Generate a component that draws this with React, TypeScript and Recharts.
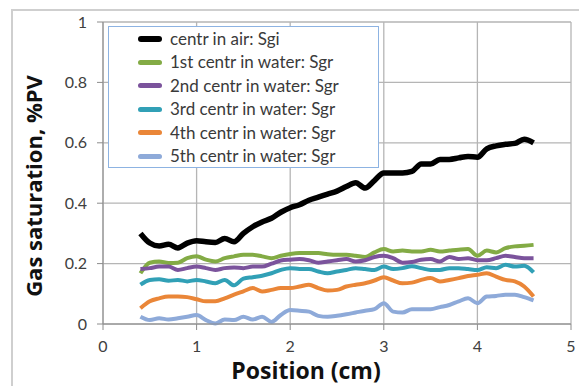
import React from 'react';
import {
  LineChart,
  Line,
  XAxis,
  YAxis,
  CartesianGrid,
  Legend,
} from 'recharts';

// position along the core, cm
const positions = [
  0.4, 0.5, 0.6, 0.7, 0.8, 0.9, 1.0, 1.1, 1.2, 1.3, 1.4, 1.5, 1.6, 1.7, 1.8,
  1.9, 2.0, 2.1, 2.2, 2.3, 2.4, 2.5, 2.6, 2.7, 2.8, 2.9, 3.0, 3.1, 3.2, 3.3,
  3.4, 3.5, 3.6, 3.7, 3.8, 3.9, 4.0, 4.1, 4.2, 4.3, 4.4, 4.5, 4.6,
];

const sgiAir = [
  0.3, 0.268, 0.258, 0.264, 0.252, 0.268, 0.276, 0.272, 0.27, 0.283, 0.272,
  0.3, 0.322, 0.338, 0.35, 0.37, 0.385, 0.395, 0.41, 0.42, 0.43, 0.44, 0.455,
  0.468, 0.45, 0.475, 0.5, 0.5, 0.5, 0.505, 0.53, 0.53, 0.545, 0.545, 0.55,
  0.555, 0.552, 0.58, 0.59, 0.595, 0.598, 0.612, 0.6,
];

const sgrWater1 = [
  0.168, 0.203, 0.207, 0.202, 0.203, 0.218, 0.224, 0.213, 0.207, 0.218, 0.224,
  0.229, 0.229, 0.224, 0.218, 0.226, 0.232, 0.235, 0.235, 0.235, 0.231, 0.229,
  0.229, 0.226, 0.222, 0.237, 0.248, 0.24, 0.243, 0.24, 0.24, 0.246, 0.24,
  0.243, 0.246, 0.248, 0.226, 0.243, 0.237, 0.251, 0.257, 0.259, 0.262,
];

const sgrWater2 = [
  0.182, 0.185, 0.19, 0.19, 0.179, 0.185, 0.19, 0.185, 0.179, 0.185, 0.187,
  0.185, 0.19, 0.19, 0.2, 0.21, 0.213, 0.215, 0.211, 0.203, 0.207, 0.211,
  0.215, 0.207, 0.211, 0.222, 0.226, 0.218, 0.203, 0.205, 0.213, 0.215, 0.207,
  0.222, 0.215, 0.218, 0.211, 0.211, 0.218, 0.226, 0.222, 0.218, 0.218,
];

const sgrWater3 = [
  0.13, 0.146, 0.148, 0.143, 0.146, 0.141, 0.146, 0.141, 0.135, 0.146, 0.128,
  0.15, 0.155, 0.16, 0.168, 0.179, 0.185, 0.182, 0.182, 0.174, 0.168, 0.174,
  0.179, 0.185, 0.182, 0.179, 0.19, 0.182, 0.185, 0.191, 0.185, 0.179, 0.179,
  0.185, 0.185, 0.182, 0.179, 0.188, 0.185, 0.196, 0.19, 0.193, 0.171,
];

const sgrWater4 = [
  0.052, 0.075, 0.085, 0.091, 0.091, 0.089, 0.082, 0.075, 0.075, 0.085, 0.097,
  0.108, 0.119, 0.108, 0.113, 0.119, 0.119, 0.124, 0.13, 0.119, 0.111, 0.113,
  0.124, 0.13, 0.135, 0.144, 0.155, 0.144, 0.135, 0.137, 0.146, 0.152, 0.141,
  0.146, 0.152, 0.159, 0.163, 0.168, 0.157, 0.146, 0.141, 0.124, 0.091,
];

const sgrWater5 = [
  0.024, 0.013, 0.019, 0.015, 0.019, 0.024, 0.03, 0.013, 0.002, 0.015, 0.013,
  0.024, 0.015, 0.024, 0.007, 0.03, 0.046, 0.044, 0.041, 0.027, 0.024, 0.027,
  0.032, 0.038, 0.044, 0.049, 0.069, 0.041, 0.038, 0.049, 0.049, 0.049, 0.056,
  0.063, 0.075, 0.085, 0.069, 0.091, 0.093, 0.097, 0.097, 0.089, 0.078,
];

const xTicks = [0, 1, 2, 3, 4, 5];
const yTicks = [0, 0.2, 0.4, 0.6, 0.8, 1];

const seriesInfo = [
  { key: 'air', name: 'centr in air: Sgi', color: '#000000', width: 5.5 },
  { key: 'w1', name: '1st centr in water: Sgr', color: '#83ab45', width: 4 },
  { key: 'w2', name: '2nd centr in water: Sgr', color: '#7b539c', width: 4 },
  { key: 'w3', name: '3rd centr in water: Sgr', color: '#31a0b6', width: 4 },
  { key: 'w4', name: '4th centr in water: Sgr', color: '#ea8638', width: 4 },
  { key: 'w5', name: '5th centr in water: Sgr', color: '#8eaad9', width: 4 },
];

const data = positions.map((pos, i) => ({
  pos,
  air: sgiAir[i],
  w1: sgrWater1[i],
  w2: sgrWater2[i],
  w3: sgrWater3[i],
  w4: sgrWater4[i],
  w5: sgrWater5[i],
}));

const FONT = 'Lato, "Open Sans", sans-serif';

const LegendBox = () => (
  <div
    style={{
      width: 271,
      height: 142,
      boxSizing: 'border-box',
      border: '1.5px solid #8db3e2',
      background: '#fff',
    }}
  >
    {seriesInfo.map((s) => (
      <div
        key={s.key}
        style={{ display: 'flex', alignItems: 'center', height: 23.5 }}
      >
        <div
          style={{
            marginLeft: 29,
            width: 24,
            height: s.width + 1,
            borderRadius: 3,
            background: s.color,
          }}
        />
        <span
          style={{
            marginLeft: 8,
            fontFamily: FONT,
            fontSize: 17,
            color: '#3a3a3a',
            lineHeight: '20px',
          }}
        >
          {s.name}
        </span>
      </div>
    ))}
  </div>
);

export default function App() {
  return (
    <div
      style={{
        position: 'absolute',
        left: 0,
        top: 0,
        width: 579,
        height: 386,
        background: '#fff',
        overflow: 'hidden',
      }}
    >
      <div
        style={{
          position: 'absolute',
          left: 11,
          top: 9,
          width: 600,
          height: 400,
          borderLeft: '2px solid #cfcfcf',
          borderTop: '2px solid #cfcfcf',
        }}
      />
      <div style={{ position: 'absolute', left: 0, top: 0 }}>
        <LineChart
          width={579}
          height={386}
          data={data}
          margin={{ top: 22, right: 8, left: 43, bottom: 32 }}
        >
          <CartesianGrid stroke="#b5b5b5" strokeWidth={1.3} />
          <XAxis
            dataKey="pos"
            type="number"
            domain={[0, 5]}
            ticks={xTicks}
            height={30}
            stroke="#8c8c8c"
            tickSize={6}
            tickMargin={11}
            tick={{ fill: '#404040', fontSize: 16, fontFamily: FONT }}
          />
          <YAxis
            type="number"
            domain={[0, 1]}
            ticks={yTicks}
            width={60}
            stroke="#8c8c8c"
            tickSize={6}
            tickMargin={10}
            tick={{ fill: '#404040', fontSize: 16, fontFamily: FONT }}
          />
          {seriesInfo.map((s) => (
            <Line
              key={s.key}
              type="monotone"
              dataKey={s.key}
              name={s.name}
              stroke={s.color}
              strokeWidth={s.width}
              dot={false}
              isAnimationActive={false}
            />
          ))}
          <Legend
            layout="vertical"
            align="center"
            verticalAlign="middle"
            content={<LegendBox />}
            wrapperStyle={{ left: 108, top: 26, width: 271, height: 142 }}
          />
        </LineChart>
      </div>
      <div
        style={{
          position: 'absolute',
          left: 306,
          top: 370,
          transform: 'translate(-50%, -50%)',
          fontFamily: '"Open Sans", sans-serif',
          fontWeight: 700,
          fontSize: 23,
          whiteSpace: 'nowrap',
          color: '#111',
        }}
      >
        Position (cm)
      </div>
      <div
        style={{
          position: 'absolute',
          left: 33,
          top: 186,
          transform: 'translate(-50%, -50%) rotate(-90deg)',
          fontFamily: '"Open Sans", sans-serif',
          fontWeight: 700,
          fontSize: 22,
          whiteSpace: 'nowrap',
          color: '#111',
        }}
      >
        Gas saturation, %PV
      </div>
    </div>
  );
}
